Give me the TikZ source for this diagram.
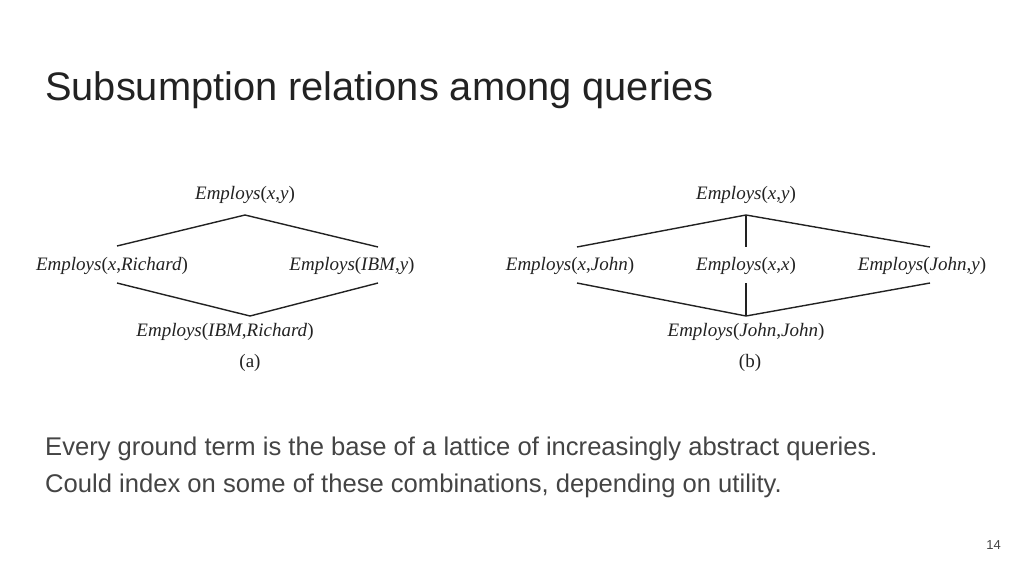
\documentclass[tikz,border=0pt]{standalone}
\usepackage{fontspec}
\setmainfont{Liberation Serif}
\newfontfamily\hsans{Liberation Sans}
\definecolor{txt}{HTML}{222222}
\definecolor{body}{HTML}{444444}
\begin{document}
\begin{tikzpicture}[x=1pt,y=-1pt,
  term/.style={inner sep=0pt,font=\fontsize{19}{22}\selectfont,text=txt},
  edge/.style={line width=1.4pt,draw=txt}]
\useasboundingbox[fill=white] (0,0) rectangle (1024,576);
\node[anchor=base west,inner sep=0pt,font=\hsans\fontsize{39.8}{46}\selectfont,text=txt] (title) at (45,100) {Subsumption relations among queries};
% (a)
\node[term] (a1) at (245,195) {\textit{Employs}(\textit{x},\textit{y})};
\node[term] (a2) at (112,266) {\textit{Employs}(\textit{x},\textit{Richard})};
\node[term] (a3) at (352,266) {\textit{Employs}(\textit{IBM},\textit{y})};
\node[term] (a4) at (225,332) {\textit{Employs}(\textit{IBM},\textit{Richard})};
\node[term] (alab) at (250,363) {(a)};
\coordinate (at) at (245,215); \coordinate (al1) at (117,246); \coordinate (ar1) at (378,247);
\coordinate (al2) at (117,283); \coordinate (ar2) at (378,283); \coordinate (ab) at (250,316);
\draw[edge] (al1) -- (at) -- (ar1);
\draw[edge] (al2) -- (ab) -- (ar2);
% (b)
\node[term] (b1) at (746,195) {\textit{Employs}(\textit{x},\textit{y})};
\node[term] (b2) at (570,266) {\textit{Employs}(\textit{x},\textit{John})};
\node[term] (b3) at (746,266) {\textit{Employs}(\textit{x},\textit{x})};
\node[term] (b4) at (922,266) {\textit{Employs}(\textit{John},\textit{y})};
\node[term] (b5) at (746,332) {\textit{Employs}(\textit{John},\textit{John})};
\node[term] (blab) at (750,363) {(b)};
\coordinate (bt) at (746,215); \coordinate (bl1) at (577,247); \coordinate (br1) at (930,247); \coordinate (bm1) at (746,247);
\coordinate (bl2) at (577,283); \coordinate (br2) at (930,283); \coordinate (bm2) at (746,283); \coordinate (bb) at (746,316);
\draw[edge] (bl1) -- (bt) -- (br1);
\draw[edge] (bt) -- (bm1);
\draw[edge] (bl2) -- (bb) -- (br2);
\draw[edge] (bm2) -- (bb);
% body
\node[anchor=base west,inner sep=0pt,font=\hsans\fontsize{25.6}{30}\selectfont,text=body] (l1) at (45,455) {Every ground term is the base of a lattice of increasingly abstract queries.};
\node[anchor=base west,inner sep=0pt,font=\hsans\fontsize{25.6}{30}\selectfont,text=body] (l2) at (45,492) {Could index on some of these combinations, depending on utility.};
\node[anchor=base east,inner sep=0pt,font=\hsans\fontsize{13}{15}\selectfont,text=body] (pg) at (1001,549) {14};
\end{tikzpicture}
\end{document}
